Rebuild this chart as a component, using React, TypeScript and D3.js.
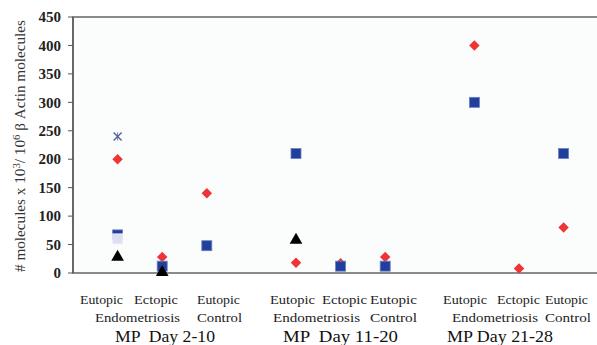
import * as d3 from "d3";

// category slots on the x axis (gaps between the three MP periods)
const slots = [0, 1, 2, 4, 5, 6, 8, 9, 10];
const yTicks = [0, 50, 100, 150, 200, 250, 300, 350, 400, 450];

// series values per slot (null = no point)
const redDiamond = [200, 28, 140, 18, 17, 28, 400, 8, 80];
const blueSquare = [67, 12, 48, 210, 12, 12, 300, null, 210];
const lightSquare = [60, null, null, null, null, null, null, null, null];
const blackTriangle = [28, 1, null, 58, null, null, null, null, null];
const starMark = [240, null, null, null, null, null, null, null, null];

const periods = ["MP  Day 2-10", "MP  Day 11-20", "MP Day 21-28"];

const W = 597;
const H = 345;
const margin = { left: 73, top: 17, bottom: 273 };
const serif = "Liberation Serif, DejaVu Serif, serif";

export default function App() {
  const x = d3.scaleLinear().domain([-1, 11]).range([margin.left, margin.left + 12 * 44.6]);
  const y = d3.scaleLinear().domain([0, 450]).range([margin.bottom, margin.top]);

  const pts = (vals: (number | null)[]) =>
    vals
      .map((v, i) => (v == null ? null : { cx: x(slots[i]), cy: y(v) }))
      .filter((d): d is { cx: number; cy: number } => d !== null);

  const diamond = d3.symbol(d3.symbolDiamond2, 70)();
  const tri = d3.symbol(d3.symbolTriangle, 70)();
  const sq = 10;

  // x label words: [text, start x, width, row]
  const words: [string, number, number, number][] = [
    ["Eutopic", 80, 43, 0], ["Ectopic", 134, 44, 0], ["Eutopic", 197, 43, 0],
    ["Endometriosis", 95, 85, 1], ["Control", 197, 45, 1],
    ["Eutopic", 270, 45, 0], ["Ectopic", 322, 45, 0], ["Eutopic", 370, 47, 0],
    ["Endometriosis", 273, 87, 1], ["Control", 370, 47, 1],
    ["Eutopic", 443, 44, 0], ["Ectopic", 497, 43, 0], ["Eutopic", 545, 43, 0],
    ["Endometriosis", 452, 86, 1], ["Control", 545, 46, 1],
  ];
  const periodPos: [number, number][] = [[115, 100], [283, 115], [447, 106]];
  const rowY = [304, 322];

  return (
    <svg width={W} height={H} style={{ position: "absolute", left: 0, top: 0, background: "#fff", fontFamily: serif }}>
      <rect x={margin.left} y={margin.top} width={W} height={margin.bottom - margin.top}
        fill="#fbfcfc" stroke="#6e6e6e" strokeWidth={1.6} />
      <line x1={margin.left} x2={margin.left} y1={margin.top} y2={margin.bottom} stroke="#555" strokeWidth={1.3} />
      {yTicks.map((t) => (
        <g key={t}>
          <line x1={margin.left - 5} x2={margin.left} y1={y(t)} y2={y(t)} stroke="#555" />
          <text x={61} y={y(t)} dy="0.35em" textAnchor="end" fontWeight="bold" fontSize={15} fill="#222"
            style={{ fontFamily: serif }}>{t}</text>
        </g>
      ))}
      <text transform={`translate(25,146) rotate(-90)`} textAnchor="middle"
        fontSize={14} fill="#333" style={{ fontFamily: serif }} textLength={252} lengthAdjust="spacingAndGlyphs">
        # molecules x 10<tspan dy="-5" fontSize={10}>3</tspan><tspan dy="5">/ 10</tspan>
        <tspan dy="-5" fontSize={10}>6</tspan><tspan dy="5"> β Actin molecules</tspan>
      </text>

      {pts(redDiamond).map((p, i) => (
        <path key={"d" + i} d={diamond} transform={`translate(${p.cx},${p.cy})`} fill="#ee3434" />
      ))}
      {pts(blueSquare).map((p, i) => (
        <rect key={"s" + i} x={p.cx - sq / 2} y={p.cy - sq / 2} width={sq} height={sq}
          fill="#213f9c" stroke="#6f7fc0" strokeWidth={0.8} />
      ))}
      {pts(lightSquare).map((p, i) => (
        <rect key={"l" + i} x={p.cx - sq / 2} y={p.cy - sq / 2} width={sq} height={sq}
          fill="#dcdff2" stroke="#eef0fa" strokeWidth={0.8} />
      ))}
      {pts(blackTriangle).map((p, i) => (
        <path key={"t" + i} d={tri} transform={`translate(${p.cx},${p.cy})`} fill="#000" />
      ))}
      {pts(starMark).map((p, i) => (
        <g key={"x" + i} transform={`translate(${p.cx},${p.cy})`} stroke="#56639c" strokeWidth={1.4}>
          <line x1={-4} y1={-4} x2={4} y2={4} />
          <line x1={-4} y1={4} x2={4} y2={-4} />
          <line x1={0} y1={-4} x2={0} y2={4} strokeWidth={0.8} />
        </g>
      ))}

      {words.map(([w, wx, ww, r], i) => (
        <text key={"w" + i} x={wx} y={rowY[r]} fontSize={13} fill="#222" textLength={ww}
          lengthAdjust="spacingAndGlyphs" style={{ fontFamily: serif }}>{w}</text>
      ))}
      {periods.map((p, i) => (
        <text key={"p" + i} x={periodPos[i][0]} y={342} fontSize={16} fill="#111" textLength={periodPos[i][1]}
          lengthAdjust="spacingAndGlyphs" style={{ whiteSpace: "pre", fontFamily: serif }}>{p}</text>
      ))}
    </svg>
  );
}
